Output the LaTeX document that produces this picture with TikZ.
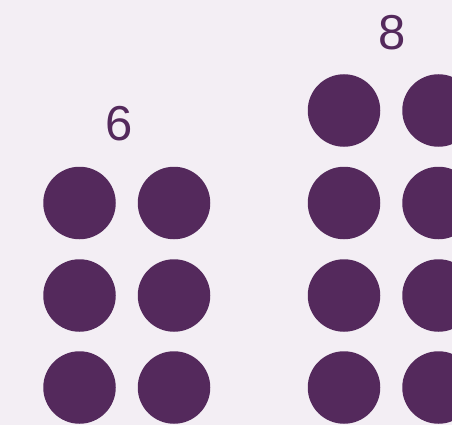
\documentclass[tikz,border=0pt]{standalone}
\usepackage{fontspec}
\setmainfont{Liberation Sans}
\definecolor{bgcol}{HTML}{F3EEF4}
\definecolor{dotcol}{HTML}{54295C}
\tikzset{
  dot/.style={circle,fill=dotcol,minimum size=72.5pt,inner sep=0pt},
  count/.style={text=dotcol,font=\fontsize{49}{49}\selectfont,inner sep=0pt}
}
\begin{document}
\begin{tikzpicture}[x=1pt,y=-1pt]
  \fill[bgcol] (0,0) rectangle (452,425);
  \useasboundingbox (0,0) rectangle (452,425);
  % left group: six
  \node[count] (six) at (119,124) {6};
  \foreach \r/\y in {1/203,2/295.5,3/387.5}
    \foreach \c/\x in {1/79.5,2/174}
      \node[dot] (l\r\c) at (\x,\y) {};
  % right group: eight
  \node[count] (eight) at (392.5,32.5) {8};
  \foreach \r/\y in {1/110.5,2/203,3/295.5,4/387.5}
    \foreach \c/\x in {1/344,2/438.5}
      \node[dot] (r\r\c) at (\x,\y) {};
\end{tikzpicture}
\end{document}
